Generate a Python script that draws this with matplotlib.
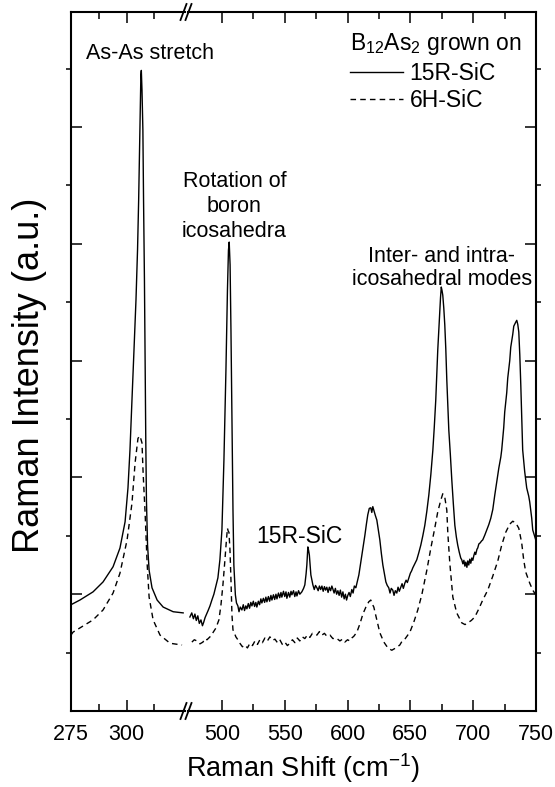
import numpy as np
import matplotlib.pyplot as plt
from matplotlib.lines import Line2D

plt.rcParams['font.family'] = ['Liberation Sans', 'DejaVu Sans']
plt.rcParams['mathtext.fontset'] = 'custom'
plt.rcParams['mathtext.rm'] = 'Liberation Sans'

# --- data: (Raman shift cm-1, intensity a.u.) ---
solid_left = np.array([
    [275.0, 1.82], [279.0, 1.90], [284.9, 2.04], [289.4, 2.21], [293.9, 2.47],
    [297.0, 2.79], [299.3, 3.24], [300.6, 3.82], [301.5, 4.47], [302.4, 5.33],
    [303.3, 6.18], [304.2, 7.04], [304.9, 7.90], [305.4, 8.75], [305.8, 9.61],
    [306.2, 10.46], [306.4, 10.89], [306.6, 10.97], [306.9, 10.63], [307.3, 9.95],
    [307.6, 8.75], [308.0, 7.38], [308.3, 6.01], [308.6, 4.64], [308.9, 3.61],
    [309.4, 2.84], [310.1, 2.41], [311.4, 2.11], [313.7, 1.90], [316.4, 1.78],
    [320.9, 1.70], [325.4, 1.68],
])

dashed_left = np.array([
    [275.0, 1.30], [275.9, 1.35], [284.9, 1.56], [289.4, 1.73], [293.9, 2.02],
    [297.0, 2.36], [300.2, 2.93], [302.4, 3.56], [303.8, 4.25], [305.1, 4.67],
    [306.0, 4.71], [306.9, 4.59], [307.4, 4.08], [308.3, 3.39], [309.2, 2.53],
    [310.1, 1.95], [311.9, 1.56], [315.0, 1.30], [319.5, 1.16], [324.9, 1.13],
])

solid_right = np.array([
    [474.5, 1.61], [476.0, 1.68], [477.3, 1.58], [478.5, 1.66], [479.6, 1.55],
    [480.8, 1.63], [482.0, 1.50], [483.3, 1.56], [484.5, 1.46], [485.5, 1.52],
    [486.6, 1.60], [487.8, 1.66], [489.0, 1.72], [490.5, 1.80], [492.0, 1.90],
    [493.6, 2.00], [495.2, 2.14], [496.8, 2.28], [498.4, 2.59], [500.0, 3.10],
    [501.6, 4.30], [503.2, 5.84], [504.4, 7.21], [505.2, 7.89], [505.8, 8.03],
    [506.5, 7.64], [507.2, 6.51], [508.0, 4.98], [508.8, 3.44], [509.5, 2.50],
    [510.7, 1.99], [511.6, 1.85], [512.7, 1.80], [513.6, 1.70], [514.6, 1.78],
    [515.9, 1.73], [517.0, 1.82], [518.0, 1.72], [519.0, 1.80], [519.9, 1.75],
    [521.0, 1.84], [522.0, 1.76], [523.0, 1.86], [523.9, 1.80], [525.0, 1.88],
    [526.0, 1.79], [527.0, 1.86], [527.8, 1.78], [529.0, 1.88], [530.0, 1.82],
    [531.0, 1.92], [531.8, 1.85], [533.0, 1.93], [534.0, 1.86], [535.0, 1.95],
    [535.8, 1.87], [537.0, 1.96], [538.0, 1.88], [539.0, 1.98], [539.8, 1.90],
    [541.0, 1.99], [542.0, 1.91], [543.0, 2.00], [543.8, 1.92], [545.0, 2.02],
    [546.0, 1.94], [547.0, 2.03], [547.7, 1.95], [549.0, 2.05], [550.0, 1.96],
    [551.0, 2.04], [551.7, 1.93], [553.0, 2.03], [554.0, 1.95], [555.0, 2.05],
    [555.7, 1.99], [557.0, 2.06], [558.0, 1.96], [559.0, 2.04], [559.7, 1.97],
    [561.0, 2.06], [562.0, 2.00], [563.6, 2.04], [565.0, 2.10], [566.0, 2.16],
    [567.0, 2.35], [567.6, 2.50], [568.4, 2.81], [569.0, 2.75], [569.6, 2.67],
    [570.8, 2.33], [572.4, 2.16], [573.5, 2.08], [574.5, 2.15], [575.6, 2.11],
    [576.6, 2.06], [577.6, 2.14], [578.6, 2.08], [579.6, 2.14], [580.6, 2.05],
    [581.6, 2.13], [582.5, 2.07], [583.5, 2.12], [584.5, 2.03], [585.5, 2.12],
    [586.5, 2.06], [587.5, 2.14], [588.3, 2.09], [589.3, 2.02], [590.3, 2.10],
    [591.3, 2.00], [592.3, 2.06], [593.3, 1.98], [594.3, 2.07], [595.3, 1.95],
    [596.3, 2.04], [597.3, 1.92], [598.3, 2.00], [599.2, 1.90], [600.2, 1.98],
    [601.2, 2.03], [602.2, 1.96], [603.4, 2.08], [604.4, 2.02], [605.4, 2.14],
    [606.6, 2.11], [607.6, 2.20], [609.0, 2.33], [610.2, 2.50], [611.4, 2.67],
    [612.6, 2.85], [613.8, 3.01], [615.0, 3.20], [616.1, 3.36], [617.3, 3.47],
    [618.5, 3.48], [619.3, 3.40], [620.1, 3.50], [620.9, 3.44], [622.1, 3.35],
    [623.3, 3.27], [624.5, 3.10], [625.7, 2.93], [626.9, 2.70], [628.1, 2.50],
    [629.3, 2.35], [630.5, 2.21], [631.6, 2.15], [632.8, 2.11], [633.8, 2.02],
    [634.8, 2.10], [636.0, 2.07], [637.0, 1.98], [638.0, 2.06], [639.2, 2.02],
    [640.2, 2.12], [641.2, 2.05], [642.4, 2.12], [643.4, 2.18], [644.4, 2.10],
    [645.6, 2.19], [646.6, 2.24], [647.6, 2.20], [648.8, 2.28], [650.0, 2.36],
    [651.0, 2.40], [651.9, 2.45], [653.5, 2.52], [655.1, 2.59], [656.7, 2.71],
    [658.3, 2.84], [659.9, 3.00], [661.5, 3.18], [663.1, 3.42], [664.7, 3.70],
    [666.3, 4.05], [667.9, 4.47], [669.0, 4.85], [670.2, 5.32], [671.0, 5.75],
    [671.8, 6.18], [672.6, 6.52], [673.4, 6.86], [674.0, 7.08], [674.6, 7.26],
    [675.2, 7.20], [675.8, 7.12], [676.6, 6.90], [677.4, 6.61], [678.2, 6.20],
    [679.0, 5.67], [679.8, 5.25], [680.6, 4.81], [681.8, 4.40], [683.0, 3.95],
    [684.2, 3.55], [685.4, 3.18], [686.6, 2.98], [687.7, 2.84], [688.9, 2.72],
    [690.1, 2.62], [690.9, 2.59], [691.8, 2.52], [692.6, 2.58], [693.4, 2.48],
    [694.1, 2.55], [695.0, 2.46], [695.7, 2.57], [696.5, 2.50], [697.3, 2.60],
    [698.1, 2.53], [698.9, 2.62], [699.7, 2.58], [700.5, 2.66], [701.3, 2.72],
    [702.0, 2.68], [703.0, 2.77], [703.6, 2.79], [704.5, 2.86], [705.6, 2.88],
    [706.6, 2.91], [707.6, 2.93], [709.2, 3.01], [710.8, 3.10], [712.4, 3.19],
    [714.0, 3.30], [715.6, 3.45], [717.2, 3.70], [718.8, 3.93], [720.4, 4.16],
    [722.0, 4.35], [722.7, 4.47], [724.3, 4.85], [725.1, 5.12], [726.7, 5.45],
    [727.5, 5.70], [729.1, 6.00], [729.9, 6.23], [731.5, 6.45], [732.3, 6.59],
    [733.9, 6.66], [734.7, 6.69], [735.5, 6.62], [736.3, 6.49], [737.1, 6.10],
    [737.9, 5.58], [738.6, 5.05], [739.4, 4.47], [741.0, 4.10], [742.6, 3.82],
    [744.2, 3.68], [745.0, 3.58], [746.6, 3.30], [747.4, 3.10], [749.8, 2.93],
])

dashed_right = np.array([
    [476.1, 1.18], [478.0, 1.22], [480.1, 1.20], [482.5, 1.15], [484.9, 1.18],
    [486.5, 1.24], [488.1, 1.22], [490.5, 1.27], [492.8, 1.34], [495.2, 1.42],
    [497.6, 1.56], [499.2, 1.81], [500.8, 2.16], [502.4, 2.59], [503.6, 2.93],
    [504.4, 3.13], [505.0, 3.08], [505.6, 3.06], [506.4, 2.76], [507.2, 2.24],
    [508.0, 1.64], [508.8, 1.39], [510.0, 1.33], [511.1, 1.27], [512.7, 1.22],
    [514.3, 1.16], [516.3, 1.10], [518.3, 1.13], [520.3, 1.08], [522.3, 1.16],
    [524.3, 1.12], [526.3, 1.20], [528.3, 1.14], [530.2, 1.22], [532.2, 1.17],
    [534.2, 1.25], [536.2, 1.20], [538.2, 1.27], [540.2, 1.21], [542.2, 1.23],
    [544.2, 1.17], [546.1, 1.22], [548.1, 1.14], [550.1, 1.18], [552.1, 1.12],
    [554.1, 1.16], [556.1, 1.22], [558.1, 1.17], [560.0, 1.25], [562.0, 1.20],
    [564.0, 1.27], [566.0, 1.24], [568.0, 1.30], [570.0, 1.26], [572.0, 1.33],
    [575.6, 1.30], [577.6, 1.36], [579.6, 1.30], [581.6, 1.33], [583.5, 1.28],
    [586.0, 1.30], [588.3, 1.24], [591.0, 1.25], [593.9, 1.20], [596.0, 1.23],
    [597.8, 1.18], [600.0, 1.22], [601.8, 1.20], [603.4, 1.25], [605.0, 1.28],
    [607.4, 1.35], [609.8, 1.49], [612.2, 1.66], [614.6, 1.78], [616.9, 1.87],
    [618.5, 1.90], [619.5, 1.84], [620.9, 1.78], [623.3, 1.56], [625.7, 1.34],
    [628.9, 1.18], [632.1, 1.08], [635.2, 1.04], [638.4, 1.08], [641.6, 1.13],
    [643.5, 1.20], [645.6, 1.23], [649.6, 1.35], [652.7, 1.52], [655.9, 1.73],
    [659.1, 1.99], [663.1, 2.41], [666.3, 2.79], [669.4, 3.13], [671.8, 3.41],
    [674.2, 3.61], [675.8, 3.72], [677.4, 3.66], [679.0, 3.44], [679.8, 3.05],
    [681.4, 2.53], [683.8, 1.95], [686.9, 1.68], [690.9, 1.51], [693.5, 1.48],
    [695.7, 1.51], [698.5, 1.55], [701.3, 1.61], [704.5, 1.75], [707.6, 1.90],
    [711.6, 2.07], [715.6, 2.31], [719.6, 2.57], [722.7, 2.84], [725.9, 3.06],
    [729.1, 3.20], [731.5, 3.25], [733.9, 3.22], [736.3, 3.13], [738.6, 2.88],
    [740.2, 2.59], [741.8, 2.38], [745.0, 2.19], [747.4, 2.07], [749.8, 1.99],
])

left_ticks = [275, 300]
left_minor = [287.5, 312.5]
right_ticks = [500, 550, 600, 650, 700, 750]
right_minor = [525, 575, 625, 675, 725]
y_major = [0, 2, 4, 6, 8, 10]
y_minor = [1, 3, 5, 7, 9, 11]

W, H = 555, 787
fig = plt.figure(figsize=(W / 100, H / 100), dpi=100)

# two panels sharing the y range -> broken x axis
ax_l = fig.add_axes([71 / W, 1 - 711 / H, (184.5 - 71) / W, 699 / H])
ax_r = fig.add_axes([188 / W, 1 - 711 / H, (536 - 188) / W, 699 / H])

ax_l.plot(solid_left[:, 0], solid_left[:, 1], color='black', lw=1.0)
ax_l.plot(dashed_left[:, 0], dashed_left[:, 1], color='black', lw=1.0, ls=(0, (4, 3)))
l1, = ax_r.plot(solid_right[:, 0], solid_right[:, 1], color='black', lw=1.0)
l2, = ax_r.plot(dashed_right[:, 0], dashed_right[:, 1], color='black', lw=1.0, ls=(0, (4, 3)))

ax_l.set_xlim(275, 326)
ax_r.set_xlim(473, 750)
ax_l.set_xticks(left_ticks)
ax_l.set_xticks(left_minor, minor=True)
ax_r.set_xticks(right_ticks)
ax_r.set_xticks(right_minor, minor=True)

for ax in (ax_l, ax_r):
    ax.set_ylim(0, 11.97)
    ax.set_yticks(y_major)
    ax.set_yticks(y_minor, minor=True)
    ax.set_facecolor('none')
    for s in ax.spines.values():
        s.set_linewidth(1.5)
    ax.tick_params(axis='x', which='both', direction='in', top=True, bottom=True,
                   width=1.1, labelsize=15.5, pad=9)
    ax.tick_params(axis='x', which='major', length=7.6)
    ax.tick_params(axis='x', which='minor', length=5)
    ax.tick_params(axis='y', which='major', direction='in', length=7.6, width=1.1,
                   labelleft=False, labelright=False)
    ax.tick_params(axis='y', which='minor', direction='out', length=3.5, width=1.1)

ax_l.spines['right'].set_visible(False)
ax_r.spines['left'].set_visible(False)
ax_l.tick_params(axis='y', which='both', left=True, right=False)
ax_r.tick_params(axis='y', which='both', left=False, right=True)

# break marks "//"
for yc in (711, 12):
    for xc in (183.5, 188.5):
        fig.add_artist(Line2D([(xc - 3) / W, (xc + 3) / W], [1 - (yc + 8) / H, 1 - (yc - 8) / H],
                              color='black', lw=1.3, transform=fig.transFigure))

ax_l.text(310.7, 11.16, 'As-As stretch', ha='center', va='baseline', fontsize=15.5, clip_on=False)
ax_r.text(509.9, 8.64, 'Rotation of\nboron\nicosahedra', ha='center', va='center',
          fontsize=15.5, linespacing=1.25, clip_on=False)
ax_r.text(561.3, 2.88, '15R-SiC', ha='center', va='baseline', fontsize=16.5)
ax_r.text(675, 7.59, 'Inter- and intra-\nicosahedral modes', ha='center', va='center',
          fontsize=15.5, linespacing=1.15, clip_on=False)

ax_r.legend([l1, l2], ['15R-SiC', '6H-SiC'],
            title='B$\\mathregular{_{12}}$As$\\mathregular{_2}$ grown on',
            loc='upper left', bbox_to_anchor=((350 - 188) / 348, (711 - 31) / 699),
            frameon=False, fontsize=16.5, title_fontsize=16.5, handlelength=2.3,
            handletextpad=0.3, borderpad=0, borderaxespad=0, labelspacing=0.2,
            alignment='left')

fig.text(303 / W, 1 - 768 / H, 'Raman Shift (cm$\\mathregular{^{-1}}$)', ha='center', va='center', fontsize=19.5)
fig.text(30 / W, 1 - 375 / H, 'Raman Intensity (a.u.)', ha='center', va='center',
         rotation=90, fontsize=26)

fig.savefig('out.png', dpi=100)
